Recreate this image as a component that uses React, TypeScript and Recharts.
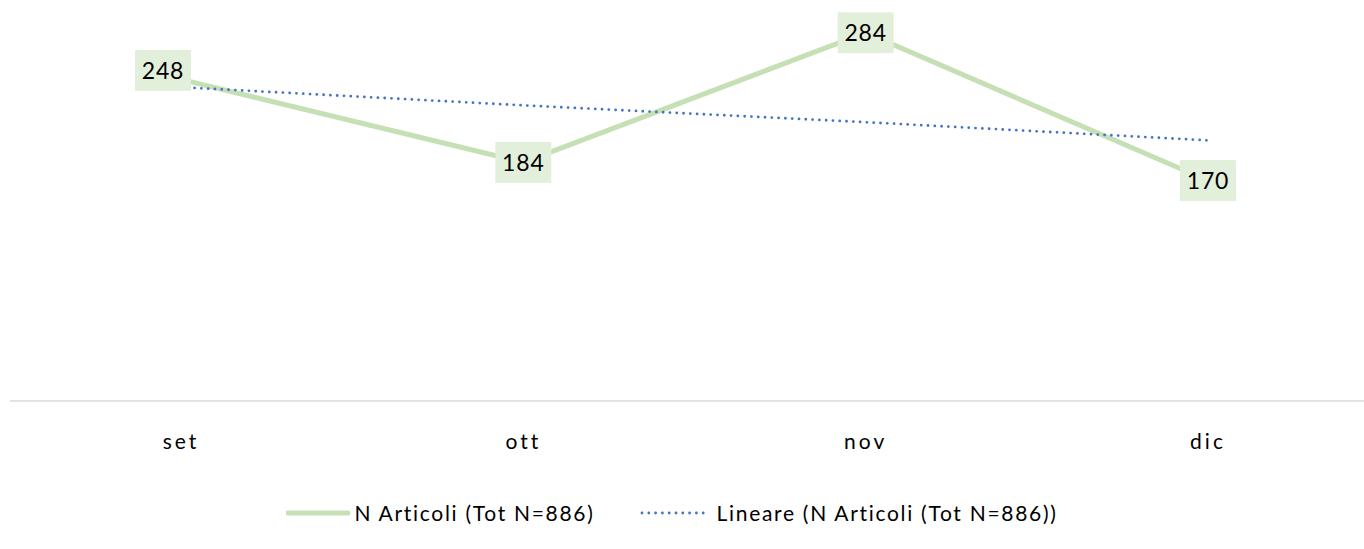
import { LineChart, Line, XAxis, YAxis, Legend, LabelList } from 'recharts';

const months = ['set', 'ott', 'nov', 'dic'];
const articoli = [248, 184, 284, 170];
// Excel linear trend line
const lineare = [242, 228, 215, 201];

const data = months.map((m, i) => ({ month: m, articoli: articoli[i], lineare: lineare[i] }));

const FONT = 'Lato, "Open Sans", sans-serif';
const GREEN = '#c5e0b4';
const GREEN_BOX = '#e2efda';
const BLUE = '#4472c4';

function ValueLabel(props: any) {
  const { x, y, value, index } = props;
  // first label was nudged up-left in the original
  const dx = index === 0 ? -18 : 0;
  const dy = index === 0 ? -9 : 0;
  const w = 56;
  const h = 41;
  return (
    <g>
      <rect x={x + dx - w / 2} y={y + dy - h / 2} width={w} height={h} fill={GREEN_BOX} />
      <text x={x + dx} y={y + dy} dy="0.36em" textAnchor="middle" fontSize={23} letterSpacing={0.8} fill="#000" fontFamily={FONT}>
        {value}
      </text>
    </g>
  );
}

function MonthTick(props: any) {
  const { x, y, payload } = props;
  return (
    <text x={x} y={y} dy={40} textAnchor="middle" fontSize={21} letterSpacing={3} fill="#000" fontFamily={FONT}>
      {payload.value}
    </text>
  );
}

function ChartLegend() {
  return (
    <div style={{ width: 1364, paddingRight: 20, boxSizing: 'border-box', display: 'flex', justifyContent: 'center', alignItems: 'center', fontFamily: FONT, fontSize: 21, letterSpacing: 1.7, color: '#000' }}>
      <svg width={64} height={10} style={{ marginRight: 4 }}>
        <line x1={2} y1={5} x2={62} y2={5} stroke={GREEN} strokeWidth={5} strokeLinecap="round" />
      </svg>
      <span>N Articoli (Tot N=886)</span>
      <svg width={71} height={10} style={{ marginLeft: 45, marginRight: 6 }}>
        <line x1={2} y1={5} x2={69} y2={5} stroke={BLUE} strokeWidth={2.8} strokeDasharray="0 6.8" strokeLinecap="round" />
      </svg>
      <span>Lineare (N Articoli (Tot N=886))</span>
    </div>
  );
}

export default function App() {
  return (
    <div style={{ position: 'absolute', left: 0, top: 0, width: 1364, height: 549, overflow: 'hidden', background: '#fff' }}>
      <LineChart width={1400} height={549} data={data} margin={{ top: 12, right: 21, left: 10, bottom: 0 }}>
        <XAxis
          dataKey="month"
          axisLine={{ stroke: '#d9d9d9', strokeWidth: 1.5 }}
          tickLine={false}
          height={99}
          padding={{ left: 171, right: 171 }}
          tick={<MonthTick />}
          interval={0}
        />
        <YAxis hide domain={[0, 300]} />
        <Legend verticalAlign="bottom" height={49} wrapperStyle={{ left: 0, width: 1364 }} content={() => <ChartLegend />} />
        <Line
          type="linear"
          dataKey="articoli"
          stroke={GREEN}
          strokeWidth={5}
          dot={false}
          activeDot={false}
          isAnimationActive={false}
        >
          <LabelList dataKey="articoli" content={<ValueLabel />} />
        </Line>
        <Line
          type="linear"
          dataKey="lineare"
          stroke={BLUE}
          strokeWidth={2.8}
          strokeDasharray="0 6.8"
          strokeLinecap="round"
          dot={false}
          activeDot={false}
          isAnimationActive={false}
        />
      </LineChart>
    </div>
  );
}
